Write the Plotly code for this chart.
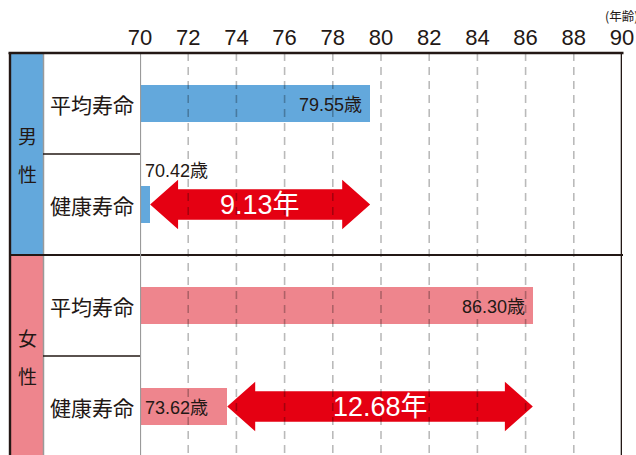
import plotly.graph_objects as go

# ---- data ----
genders = ["男性", "女性"]
row_labels = ["平均寿命", "健康寿命", "平均寿命", "健康寿命"]
avg_life = [79.55, 86.30]      # 平均寿命 (男, 女)
healthy_life = [70.42, 73.62]  # 健康寿命 (男, 女)
x_ticks = [70, 72, 74, 76, 78, 80, 82, 84, 86, 88, 90]
x_unit = "(年齢)"

# ---- styling / layout constants ----
W, H = 636, 455
ML, MR, MT, MB = 140, 14, 53, 0
PW, PH = W - ML - MR, H - MT - MB
XMIN, XMAX = 70, 90
YTOP, YBOT = -0.5, 3.48
BLUE = "#63a8dc"
PINK = "#ee858d"
RED = "#e50012"
DARK = "#231815"
FONT = "Noto Sans CJK JP"
NUMFONT = "Liberation Sans, Noto Sans CJK JP"


def px_x(p):
    return (p - ML) / PW


def px_y(p):
    return (H - MB - p) / PH


def row_px(r):
    return MT + (r - YTOP) / (YBOT - YTOP) * PH


fig = go.Figure()

# bars
vals, colors, rows = [], [], []
for g in range(2):
    vals += [avg_life[g], healthy_life[g]]
    c = BLUE if g == 0 else PINK
    colors += [c, c]
    rows += [2 * g, 2 * g + 1]

fig.add_trace(go.Bar(
    orientation="h", y=rows, x=[v - XMIN for v in vals], base=[XMIN] * 4,
    marker=dict(color=colors, line=dict(width=0)), width=0.36,
    hoverinfo="skip", showlegend=False,
))

# double-headed arrows (health -> average)
head_len = 1.16
head_h = 0.245
shaft_h = 0.15
for g in range(2):
    a, b = healthy_life[g], avg_life[g]
    yc = 2 * g + 1
    xs = [a, a + head_len, a + head_len, b - head_len, b - head_len, b,
          b - head_len, b - head_len, a + head_len, a + head_len, a]
    ys = [yc, yc - head_h, yc - shaft_h, yc - shaft_h, yc - head_h, yc,
          yc + head_h, yc + shaft_h, yc + shaft_h, yc + head_h, yc]
    fig.add_trace(go.Scatter(x=xs, y=ys, mode="lines", fill="toself",
                             fillcolor=RED, line=dict(width=0, color=RED),
                             hoverinfo="skip", showlegend=False))

# dashed grid on top
gx, gy = [], []
for t in x_ticks[1:-1]:
    gx += [t, t, None]
    gy += [YTOP, YBOT, None]
fig.add_trace(go.Scatter(x=gx, y=gy, mode="lines",
                         line=dict(color="rgba(0,0,0,0.27)", width=1.6, dash="8px,6px"),
                         hoverinfo="skip", showlegend=False))

shapes = []
# gender column fills
sec_bounds = [row_px(-0.5), row_px(1.5), H + 2]
for g in range(2):
    shapes.append(dict(type="rect", xref="paper", yref="paper",
                       x0=px_x(11), x1=px_x(43), y0=px_y(sec_bounds[g]), y1=px_y(sec_bounds[g + 1]),
                       fillcolor=BLUE if g == 0 else PINK, line=dict(width=0), layer="above"))
# gray line right of gender column
shapes.append(dict(type="line", xref="paper", yref="paper", x0=px_x(43.5), x1=px_x(43.5),
                   y0=px_y(MT), y1=px_y(H + 2), line=dict(color="#9a9a9a", width=1.5), layer="above"))
# row dividers in label column
for r in [0.5, 2.5]:
    shapes.append(dict(type="line", xref="paper", yref="paper", x0=px_x(43), x1=px_x(140),
                       y0=px_y(row_px(r)), y1=px_y(row_px(r)), line=dict(color=DARK, width=1.3), layer="above"))
# section divider across
shapes.append(dict(type="line", xref="paper", yref="paper", x0=px_x(9), x1=px_x(623),
                   y0=px_y(row_px(1.5)), y1=px_y(row_px(1.5)), line=dict(color=DARK, width=1.8), layer="above"))
# x=70 gray line
shapes.append(dict(type="line", xref="x", yref="paper", x0=XMIN, x1=XMIN, y0=0, y1=1,
                   line=dict(color="#9a9a9a", width=2.2), layer="above"))
# right border at 90
shapes.append(dict(type="line", xref="x", yref="paper", x0=XMAX, x1=XMAX, y0=0, y1=1,
                   line=dict(color=DARK, width=2.6), layer="above"))
# top border
shapes.append(dict(type="line", xref="paper", yref="paper", x0=px_x(8.5), x1=px_x(623.5),
                   y0=px_y(MT), y1=px_y(MT), line=dict(color=DARK, width=2.4), layer="above"))
# left outer border
shapes.append(dict(type="line", xref="paper", yref="paper", x0=px_x(10), x1=px_x(10),
                   y0=px_y(MT), y1=px_y(H + 2), line=dict(color=DARK, width=2.4), layer="above"))

annotations = []
# row labels
for r, lab in enumerate(row_labels):
    annotations.append(dict(xref="paper", yref="paper", x=px_x(91.5), y=px_y(row_px(r)),
                            text=lab, showarrow=False, xanchor="center", yanchor="middle",
                            font=dict(family=FONT, size=21, color=DARK)))
# gender labels
for g, name in enumerate(genders):
    yc = row_px(2 * g + 0.5)
    for k, ch in enumerate(name):
        annotations.append(dict(xref="paper", yref="paper", x=px_x(27), y=px_y(yc + (k - 0.5) * 38),
                                text=ch, showarrow=False, xanchor="center", yanchor="middle",
                                font=dict(family=FONT, size=19, color=DARK)))
# value labels
lab_font = dict(family=NUMFONT, size=18, color=DARK)
for g in range(2):
    annotations.append(dict(x=avg_life[g], y=2 * g, xref="x", yref="y", text=f"{avg_life[g]:.2f}歳",
                            showarrow=False, xanchor="right", yanchor="middle", xshift=-6, yshift=-1,
                            font=lab_font))
# male healthy: above bar
annotations.append(dict(x=XMIN, y=1 - 0.18, xref="x", yref="y", text=f"{healthy_life[0]:.2f}歳",
                        showarrow=False, xanchor="left", yanchor="bottom", xshift=3, yshift=3,
                        font=lab_font))
# female healthy: inside bar
annotations.append(dict(x=XMIN, y=3, xref="x", yref="y", text=f"{healthy_life[1]:.2f}歳",
                        showarrow=False, xanchor="left", yanchor="middle", xshift=3, yshift=-1,
                        font=lab_font))
# arrow texts
for g in range(2):
    d = avg_life[g] - healthy_life[g]
    annotations.append(dict(x=(avg_life[g] + healthy_life[g]) / 2, y=2 * g + 1, xref="x", yref="y",
                            text=f"{d:.2f}年", showarrow=False, xanchor="center", yanchor="middle",
                            font=dict(family=NUMFONT, size=27, color="white")))
# unit
annotations.append(dict(xref="paper", yref="paper", x=px_x(603), y=px_y(15), text=x_unit,
                        showarrow=False, xanchor="left", yanchor="middle",
                        font=dict(family=FONT, size=12.5, color=DARK)))

fig.update_layout(
    width=W, height=H,
    margin=dict(l=ML, r=MR, t=MT, b=MB, autoexpand=False),
    paper_bgcolor="white", plot_bgcolor="white",
    xaxis=dict(range=[XMIN, XMAX], side="top", tickmode="array", tickvals=x_ticks,
               ticktext=[str(t) for t in x_ticks], showgrid=False, zeroline=False,
               showline=False, ticks="", tickfont=dict(family=NUMFONT, size=22, color=DARK),
               ticklabelstandoff=3, fixedrange=True),
    yaxis=dict(range=[YBOT, YTOP], showgrid=False, zeroline=False, showticklabels=False,
               showline=False, fixedrange=True),
    shapes=shapes, annotations=annotations, bargap=0,
)

fig.write_html("out.html", config={"displayModeBar": False, "staticPlot": True},
               post_script="document.body.style.margin='0';document.body.style.overflow='hidden';")
